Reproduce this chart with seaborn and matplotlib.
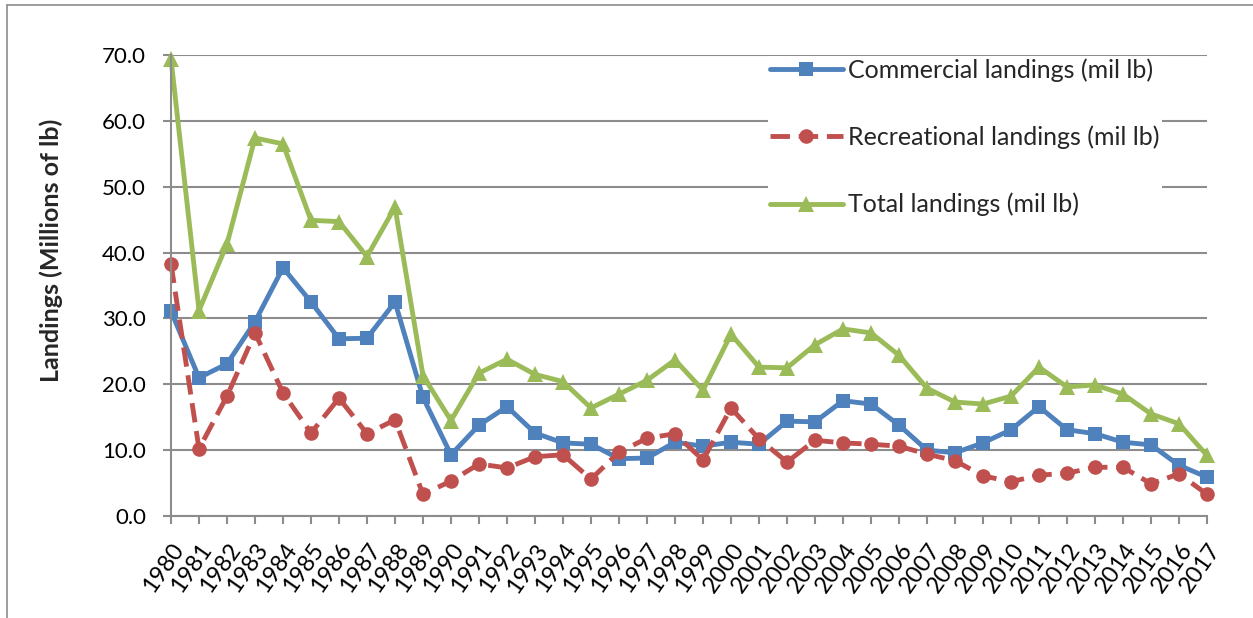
import numpy as np
import pandas as pd
import seaborn as sns
import matplotlib.pyplot as plt
from matplotlib.lines import Line2D

sns.set_theme(style="white")
plt.rcParams['font.family'] = ['Lato', 'DejaVu Sans']

years = list(range(1980, 2018))
commercial = [31.1, 21.0, 23.1, 29.5, 37.7, 32.5, 26.9, 27.0, 32.5, 18.0,
              9.3, 13.8, 16.6, 12.6, 11.1, 10.9, 8.7, 8.8, 11.2, 10.6,
              11.2, 10.9, 14.4, 14.3, 17.5, 17.0, 13.8, 10.0, 9.6, 11.1,
              13.1, 16.6, 13.1, 12.5, 11.2, 10.8, 7.7, 5.9]
recreational = [38.3, 10.2, 18.2, 27.8, 18.7, 12.6, 17.9, 12.5, 14.6, 3.3,
                5.3, 7.9, 7.3, 9.0, 9.3, 5.6, 9.7, 11.8, 12.5, 8.5,
                16.4, 11.7, 8.2, 11.5, 11.1, 10.9, 10.6, 9.4, 8.4, 6.1,
                5.2, 6.2, 6.5, 7.4, 7.4, 4.9, 6.4, 3.3]
total = [69.4, 31.2, 41.3, 57.4, 56.5, 44.9, 44.7, 39.4, 46.9, 21.3,
         14.5, 21.7, 23.8, 21.5, 20.4, 16.4, 18.5, 20.6, 23.7, 19.1,
         27.6, 22.6, 22.5, 26.0, 28.4, 27.8, 24.4, 19.4, 17.3, 17.0,
         18.2, 22.6, 19.6, 19.9, 18.5, 15.5, 14.0, 9.2]

blue = "#4F81BD"
red = "#C0504D"
green = "#9BBB59"
grid_c = "#8C8C8C"

fig = plt.figure(figsize=(12.53, 6.18), dpi=100)
ax = fig.add_axes([171 / 1253, 1 - 516 / 618, (1207 - 171) / 1253, (516 - 55) / 618])

sns.lineplot(x=years, y=commercial, ax=ax, color=blue, linewidth=3.5,
             marker="s", markersize=10.5, markeredgecolor=blue, markeredgewidth=0,
             label="Commercial landings (mil lb)", clip_on=False)
sns.lineplot(x=years, y=recreational, ax=ax, color=red, linewidth=3.5,
             linestyle=(0, (4, 1.8)), marker="o", markersize=10.5,
             markeredgecolor=red, markeredgewidth=0,
             label="Recreational landings (mil lb)", clip_on=False)
sns.lineplot(x=years, y=total, ax=ax, color=green, linewidth=3.5,
             marker="^", markersize=12, markeredgecolor=green, markeredgewidth=0,
             label="Total landings (mil lb)", clip_on=False)

ax.set_xlim(1980, 2017)
ax.set_ylim(0, 70)
ax.set_yticks(np.arange(0, 71, 10))
ax.set_yticklabels([f"{v:.1f}" for v in np.arange(0, 71, 10)], fontsize=16)
ax.set_xticks(years)
ax.set_xticklabels([str(y) for y in years], rotation=55, ha="right",
                   rotation_mode="anchor", fontsize=17)
ax.yaxis.grid(True, color=grid_c, linewidth=1.5)
ax.set_axisbelow(True)
for s in ["top", "right"]:
    ax.spines[s].set_visible(False)
for s in ["left", "bottom"]:
    ax.spines[s].set_color(grid_c)
    ax.spines[s].set_linewidth(1.5)
ax.tick_params(axis="both", which="both", direction="out", length=6, width=1.5,
               color=grid_c, bottom=True, left=True, labelcolor="black")
ax.tick_params(axis="y", pad=12)
ax.tick_params(axis="x", pad=11)
ax.set_xlabel("")
ax.set_ylabel("Landings (Millions of lb)", fontsize=18, fontweight="bold")
ax.yaxis.set_label_coords(-0.104, 0.577)

leg = ax.legend(loc="upper left", bbox_to_anchor=(755 / 1253, 1 - 43 / 618),
                bbox_transform=fig.transFigure, fontsize=18, frameon=True,
                facecolor="white", edgecolor="none", framealpha=1, fancybox=False,
                labelspacing=1.75, handlelength=2.9, handletextpad=0.2, borderpad=0.1)

# outer chart border
fig.add_artist(Line2D([7 / 1253, 1], [1 - 5 / 618, 1 - 5 / 618], color=grid_c, linewidth=1.2))
fig.add_artist(Line2D([7 / 1253, 7 / 1253], [0, 1 - 5 / 618], color=grid_c, linewidth=1.2))

fig.savefig("out.png", dpi=100)
